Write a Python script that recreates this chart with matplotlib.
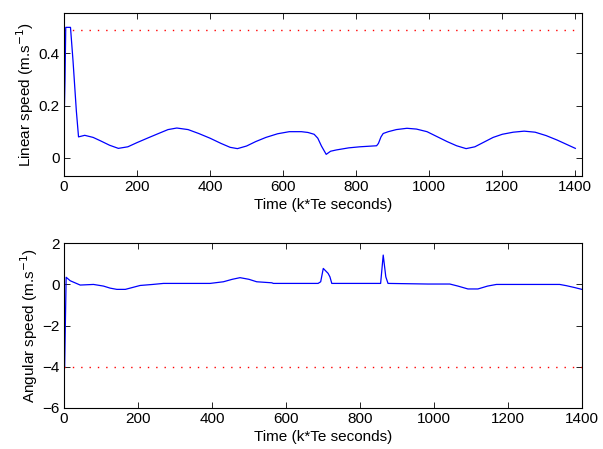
import matplotlib
matplotlib.use("Agg")
import matplotlib.pyplot as plt

plt.rcParams['font.family'] = ['Liberation Sans', 'DejaVu Sans']

# ---------- data ----------
# linear speed (m.s^-1) vs time (k*Te)
t_lin = [0, 3, 5, 18, 25, 34, 40, 57, 80, 100, 125, 149, 175, 200, 230, 259,
         285, 309, 340, 369, 400, 430, 455, 475, 500, 525, 553, 585, 617, 650,
         668, 685, 695, 705, 718, 730, 746, 780, 810, 856, 861, 868, 874, 888,
         910, 939, 965, 994, 1020, 1049, 1075, 1101, 1125, 1150, 1175, 1200,
         1230, 1260, 1290, 1320, 1350, 1375, 1400]
v_lin = [0.105, 0.30, 0.50, 0.50, 0.37, 0.18, 0.08, 0.086, 0.078, 0.065, 0.048,
         0.036, 0.042, 0.058, 0.076, 0.093, 0.108, 0.114, 0.108, 0.093, 0.075,
         0.055, 0.040, 0.035, 0.045, 0.062, 0.078, 0.092, 0.100, 0.100, 0.097,
         0.090, 0.075, 0.045, 0.013, 0.025, 0.030, 0.038, 0.042, 0.046, 0.055,
         0.080, 0.093, 0.100, 0.108, 0.113, 0.110, 0.100, 0.082, 0.062, 0.046,
         0.035, 0.042, 0.060, 0.078, 0.090, 0.098, 0.102, 0.098, 0.085, 0.068,
         0.052, 0.036]
v_ref = 0.49

# angular speed vs time
t_ang = [0, 2, 6, 17, 44, 80, 107, 125, 143, 166, 185, 206, 240, 269, 395, 431,
         455, 476, 500, 521, 562, 566, 687, 694, 701, 714, 719, 724, 856, 863,
         870, 876, 984, 1043, 1065, 1092, 1119, 1145, 1169, 1340, 1358, 1380,
         1400]
w_ang = [0.0, -4.0, 0.35, 0.18, -0.03, 0.0, -0.08, -0.18, -0.24, -0.24, -0.15,
         -0.05, 0.0, 0.05, 0.05, 0.13, 0.25, 0.33, 0.25, 0.13, 0.08, 0.05, 0.05,
         0.13, 0.78, 0.54, 0.37, 0.05, 0.05, 1.43, 0.37, 0.05, 0.02, 0.02, -0.08,
         -0.22, -0.22, -0.08, 0.0, 0.0, -0.06, -0.15, -0.24]
w_ref = -4.0

t_ref = [0, 1405]
xticks = [0, 200, 400, 600, 800, 1000, 1200, 1400]

fig = plt.figure(figsize=(6.03, 4.49), dpi=100)
ax1 = fig.add_axes([0.106, 0.608, 0.859, 0.363])
ax2 = fig.add_axes([0.106, 0.092, 0.859, 0.366])

dots = (0, (1, 5))

# (top) linear speed
ax1.plot(t_ref, [v_ref, v_ref], color="red", lw=1.0, linestyle=dots)
ax1.plot(t_lin, v_lin, color="blue", lw=0.9)
ax1.set_xlim(0, 1418)
ax1.set_ylim(-0.07, 0.555)
ax1.set_yticks([0, 0.2, 0.4])
ax1.set_yticklabels(["0", "0.2", "0.4"])
ax1.set_ylabel("Linear speed (m.s$^{-1}$)", labelpad=2)

# (bottom) angular speed
ax2.plot(t_ref, [w_ref, w_ref], color="red", lw=1.0, linestyle=dots)
ax2.plot(t_ang, w_ang, color="blue", lw=0.9)
ax2.set_xlim(0, 1400)
ax2.set_ylim(-6, 2)
ax2.set_yticks([-6, -4, -2, 0, 2])
ax2.set_yticklabels(["\u22126", "\u22124", "\u22122", "0", "2"])
ax2.set_ylabel("Angular speed (m.s$^{-1}$)", labelpad=2)

for ax in (ax1, ax2):
    ax.set_xticks(xticks)
    ax.set_xlabel("Time (k*Te seconds)", labelpad=3)
    ax.tick_params(direction="in", top=True, right=True, labelsize=11,
                   length=4, width=0.6, pad=3)
    ax.xaxis.label.set_size(11)
    ax.yaxis.label.set_size(11)
    for s in ax.spines.values():
        s.set_linewidth(0.8)

fig.savefig("out.png", dpi=100)
